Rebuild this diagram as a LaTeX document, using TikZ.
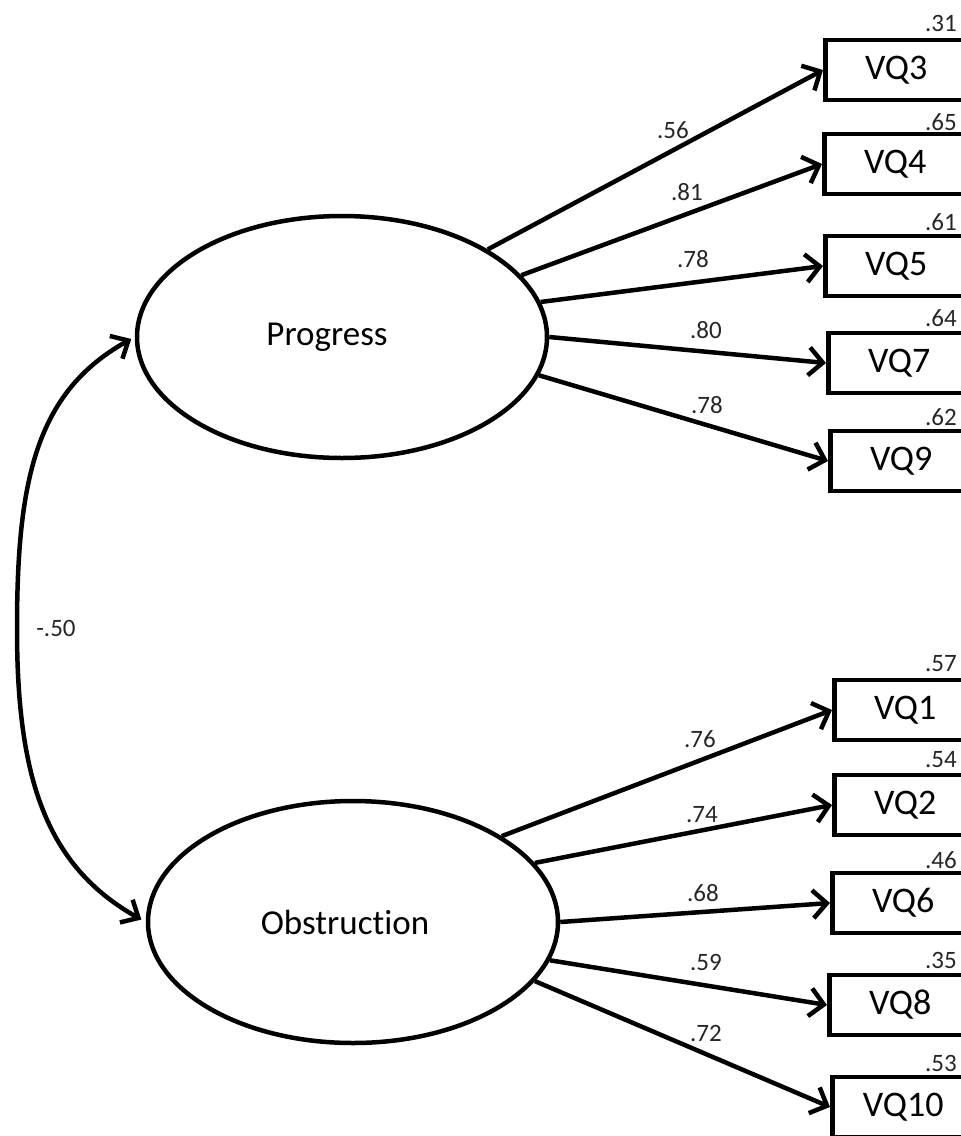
\documentclass[tikz,border=0pt]{standalone}
\usepackage{fontspec}
\setmainfont{Carlito}[Ligatures=NoCommon]
\usetikzlibrary{arrows.meta,shapes.geometric}
\begin{document}
\begin{tikzpicture}[x=1pt,y=-1pt,
  latent/.style={draw,ellipse,line width=4.5pt,minimum width=410pt,minimum height=242pt,inner sep=0pt},
  latentname/.style={font=\fontsize{35}{40}\selectfont,inner sep=0pt},
  obsbox/.style={draw,rectangle,line width=4.5pt,minimum width=142pt,minimum height=60pt,inner sep=0pt,anchor=west,font=\fontsize{36}{40}\selectfont},
  loadarrow/.style={line width=4.5pt,-{Straight Barb[length=14pt,width=28pt]}},
  covarrow/.style={line width=4.5pt,{Straight Barb[length=14pt,width=26pt]}-{Straight Barb[length=14pt,width=26pt]},shorten <=4pt,shorten >=5pt},
  coef/.style={font=\fontsize{25}{30}\selectfont,inner sep=0pt,text=black!85},
  rsq/.style={coef,anchor=east}
]
\useasboundingbox (0,0) rectangle (961,1136);
\clip (0,0) rectangle (961,1136);

% latent factors
\node[latent,label={[latentname,xshift=-15pt]center:Progress}] (prog) at (342,337) {};
\node[latent,label={[latentname,xshift=-8pt]center:Obstruction}] (obs) at (353,922) {};

% indicators of Progress
\node[obsbox] (vq3) at (823,70)  {VQ3};
\node[obsbox] (vq4) at (822,164) {VQ4};
\node[obsbox] (vq5) at (823,266) {VQ5};
\node[obsbox] (vq7) at (826,363) {VQ7};
\node[obsbox] (vq9) at (828,461) {VQ9};

% indicators of Obstruction
\node[obsbox] (vq1)  at (832,710)  {VQ1};
\node[obsbox] (vq2)  at (832,805)  {VQ2};
\node[obsbox] (vq6)  at (830,903)  {VQ6};
\node[obsbox] (vq8)  at (827,1005) {VQ8};
\node[obsbox] (vq10) at (830,1107) {VQ10};

% squared multiple correlations
\node[rsq] (r3)  at (957,23)   {.31};
\node[rsq] (r4)  at (957,122)  {.65};
\node[rsq] (r5)  at (957,222)  {.61};
\node[rsq] (r7)  at (957,318)  {.64};
\node[rsq] (r9)  at (957,417)  {.62};
\node[rsq] (r1)  at (957,664)  {.57};
\node[rsq] (r2)  at (957,760)  {.54};
\node[rsq] (r6)  at (957,860)  {.46};
\node[rsq] (r8)  at (957,960)  {.35};
\node[rsq] (r10) at (957,1063) {.53};

% factor loadings
\draw[loadarrow] (prog.31)   -- (vq3.west);
\draw[loadarrow] (prog.19.5) -- (vq4.west);
\draw[loadarrow] (prog.10.7) -- (vq5.west);
\draw[loadarrow] (prog.0)    -- (vq7.west);
\draw[loadarrow] (prog.-11.6) -- (vq9.west);

\draw[loadarrow] (obs.30.3)  -- (vq1.west);
\draw[loadarrow] (obs.18)    -- (vq2.west);
\draw[loadarrow] (obs.0)     -- (vq6.west);
\draw[loadarrow] (obs.-11.2) -- (vq8.west);
\draw[loadarrow] (obs.-18.5) -- (vq10.west);

\node[coef] (l3)  at (673,130)  {.56};
\node[coef] (l4)  at (687,192)  {.81};
\node[coef] (l5)  at (693,259)  {.78};
\node[coef] (l7)  at (706,330)  {.80};
\node[coef] (l9)  at (707,405)  {.78};
\node[coef] (l1)  at (700,739)  {.76};
\node[coef] (l2)  at (702,815)  {.74};
\node[coef] (l6)  at (703,893)  {.68};
\node[coef] (l8)  at (706,962)  {.59};
\node[coef] (l10) at (706,1033) {.72};

% factor covariance
\draw[covarrow] (prog.west) .. controls (36,392) and (17,480) .. (17,629)
                .. controls (17,778) and (46,866) .. (obs.west);
\node[coef] (cov) at (56,628) {-.50};
\end{tikzpicture}
\end{document}
